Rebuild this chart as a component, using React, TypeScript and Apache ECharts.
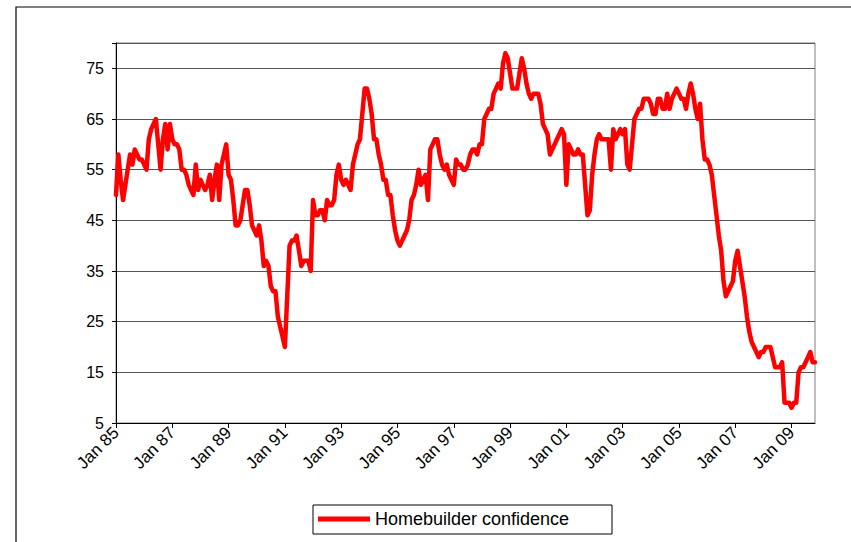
import React, { useEffect, useRef } from "react";
import * as echarts from "echarts";

// Monthly homebuilder confidence, Jan 1985 – Nov 2009
const y1985 = [50, 58, 53, 49, 52, 55, 58, 56, 59, 58, 57, 57];
const y1986 = [56, 55, 61, 63, 64, 65, 60, 55, 61, 64, 59, 64];
const y1987 = [61, 60, 60, 59, 55, 55, 54, 52, 51, 50, 56, 51];
const y1988 = [53, 52, 51, 52, 54, 49, 53, 56, 49, 56, 58, 60];
const y1989 = [54, 53, 49, 44, 44, 45, 48, 51, 51, 48, 44, 43];
const y1990 = [42, 44, 41, 36, 37, 36, 32, 31, 31, 26, 24, 22];
const y1991 = [20, 30, 40, 41, 41, 42, 39, 36, 37, 37, 37, 35];
const y1992 = [49, 46, 46, 47, 47, 45, 49, 48, 48, 49, 54, 56];
const y1993 = [53, 52, 53, 52, 51, 56, 58, 60, 61, 66, 71, 71];
const y1994 = [69, 66, 61, 61, 58, 56, 53, 53, 50, 50, 46, 43];
const y1995 = [41, 40, 41, 42, 43, 45, 49, 50, 52, 55, 52, 53];
const y1996 = [54, 49, 59, 60, 61, 61, 58, 56, 55, 56, 54, 53];
const y1997 = [52, 57, 56, 56, 55, 55, 56, 58, 59, 59, 58, 60];
const y1998 = [60, 65, 66, 67, 67, 70, 71, 72, 71, 76, 78, 77];
const y1999 = [74, 71, 71, 71, 74, 77, 75, 72, 70, 69, 70, 70];
const y2000 = [70, 68, 64, 63, 62, 58, 59, 60, 61, 62, 63, 62];
const y2001 = [52, 60, 59, 58, 58, 59, 58, 58, 52, 46, 47, 54];
const y2002 = [58, 61, 62, 61, 61, 61, 61, 55, 63, 61, 62, 63];
const y2003 = [62, 63, 56, 55, 60, 65, 66, 67, 67, 69, 69, 69];
const y2004 = [68, 66, 66, 69, 69, 67, 67, 70, 67, 69, 70, 71];
const y2005 = [70, 69, 69, 67, 70, 72, 70, 67, 65, 68, 61, 57];
const y2006 = [57, 56, 54, 50, 46, 42, 39, 33, 30, 31, 32, 33];
const y2007 = [37, 39, 36, 33, 30, 26, 23, 21, 20, 19, 18, 19];
const y2008 = [19, 20, 20, 20, 18, 16, 16, 16, 17, 9, 9, 9];
const y2009 = [8, 9, 9, 15, 16, 16, 17, 18, 19, 17, 17];

const seriesName = "Homebuilder confidence";
const monthNames = ["Jan", "Feb", "Mar", "Apr", "May", "Jun", "Jul", "Aug", "Sep", "Oct", "Nov", "Dec"];
const startYear = 1985;
const labelEvery = 24; // tick labels every two years: Jan 85, Jan 87, ...
const yMin = 5;
const yMax = 80;
const yStep = 10;

const values = [
  ...y1985, ...y1986, ...y1987, ...y1988, ...y1989, ...y1990, ...y1991, ...y1992,
  ...y1993, ...y1994, ...y1995, ...y1996, ...y1997, ...y1998, ...y1999, ...y2000,
  ...y2001, ...y2002, ...y2003, ...y2004, ...y2005, ...y2006, ...y2007, ...y2008, ...y2009,
];

const categories = values.map((_, i) => {
  const yr = (startYear + Math.floor(i / 12)) % 100;
  return `${monthNames[i % 12]} ${String(yr).padStart(2, "0")}`;
});

const FONT = 'Arial, "Liberation Sans", sans-serif';

export default function App() {
  const ref = useRef<HTMLDivElement>(null);

  useEffect(() => {
    if (!ref.current) return;
    const chart = echarts.init(ref.current, undefined, { renderer: "svg" });
    const showEvery = (i: number) => i % labelEvery === 0;
    chart.setOption({
      animation: false,
      backgroundColor: "#ffffff",
      textStyle: { fontFamily: FONT },
      grid: {
        left: 116,
        right: 36,
        top: 43,
        bottom: 119,
        show: true,
        borderColor: "#808080",
        borderWidth: 1,
        backgroundColor: "transparent",
      },
      graphic: [
        {
          type: "rect",
          silent: true,
          z: -10,
          shape: { x: 16, y: 7, width: 1000, height: 1000 },
          style: { fill: "none", stroke: "#000000", lineWidth: 1.2 },
        },
        {
          type: "rect",
          silent: true,
          z: 1,
          shape: { x: 313, y: 505, width: 299, height: 29 },
          style: { fill: "#ffffff", stroke: "#000000", lineWidth: 1 },
        },
      ],
      legend: {
        left: 318,
        top: 510,
        padding: 0,
        icon: "rect",
        itemWidth: 52,
        itemHeight: 5,
        itemGap: 6,
        z: 10,
        textStyle: { fontFamily: FONT, fontSize: 18, color: "#000000" },
        data: [seriesName],
      },
      xAxis: {
        type: "category",
        data: categories,
        boundaryGap: false,
        axisLine: { show: true, lineStyle: { color: "#000000", width: 1 } },
        axisTick: {
          show: true,
          interval: (i: number) => showEvery(i),
          length: 5,
          lineStyle: { color: "#000000" },
        },
        axisLabel: {
          interval: (i: number) => showEvery(i),
          rotate: 45,
          margin: 7,
          color: "#000000",
          fontFamily: FONT,
          fontSize: 17,
        },
        splitLine: { show: false },
      },
      yAxis: {
        type: "value",
        min: yMin,
        max: yMax,
        interval: yStep,
        axisLine: { show: true, lineStyle: { color: "#000000", width: 1 } },
        axisTick: { show: true, length: 4, lineStyle: { color: "#000000" } },
        axisLabel: {
          color: "#000000",
          fontFamily: FONT,
          fontSize: 16,
          margin: 12,
          formatter: (v: number) => (v >= yMax ? "" : String(v)),
        },
        splitLine: { show: true, lineStyle: { color: "#555555", width: 1 } },
      },
      series: [
        {
          name: seriesName,
          type: "line",
          data: values,
          showSymbol: false,
          symbol: "none",
          itemStyle: { color: "#ff0000" },
          lineStyle: { color: "#ff0000", width: 4.5, cap: "round", join: "round" },
          z: 5,
        },
      ],
    });
    return () => chart.dispose();
  }, []);

  return (
    <div
      ref={ref}
      style={{ position: "fixed", left: 0, top: 0, width: 851, height: 542, background: "#fff" }}
    />
  );
}
